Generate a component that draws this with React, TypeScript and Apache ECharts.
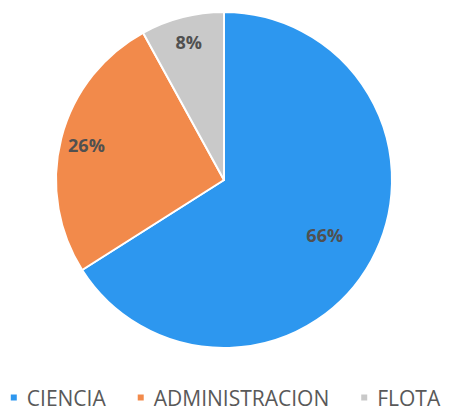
import React, { useEffect, useRef } from "react";
import * as echarts from "echarts";

const categories = ["CIENCIA", "ADMINISTRACION", "FLOTA"];
const values = [66, 26, 8];
const colors = ["#2d97ef", "#f28a4b", "#c9c9c9"];

export default function App() {
  const ref = useRef<HTMLDivElement>(null);
  useEffect(() => {
    const chart = echarts.init(ref.current!, null, { renderer: "svg" });
    const data = categories.map((name, i) => ({ name, value: values[i] }));
    const labelStyle = {
      show: true,
      position: "inside",
      formatter: "{c}%",
      color: "#505050",
      fontSize: 18,
      fontWeight: "bold",
      fontFamily: "Open Sans",
    };
    const hidden = { show: false };
    chart.setOption({
      animation: false,
      color: colors,
      legend: {
        data: categories,
        bottom: 2,
        left: "center",
        width: 449,
        padding: 0,
        icon: "rect",
        itemWidth: 8,
        itemHeight: 8,
        itemGap: 30,
        textStyle: { color: "#595959", fontSize: 21, fontFamily: "Open Sans", padding: [0, 0, 0, 4] },
      },
      series: [
        {
          type: "pie",
          center: [224, 180],
          radius: [0, 168],
          startAngle: 90,
          clockwise: true,
          data,
          label: { show: false },
          labelLine: { show: false },
          itemStyle: { borderColor: "#ffffff", borderWidth: 2 },
          silent: true,
        },
        {
          type: "pie",
          center: [224, 180],
          radius: [56, 168],
          startAngle: 90,
          clockwise: true,
          silent: true,
          legendHoverLink: false,
          data: data.map((d, i) => ({
            ...d,
            label: i === 0 ? labelStyle : hidden,
            itemStyle: { color: "transparent" },
          })),
          labelLine: { show: false },
        },
        {
          type: "pie",
          center: [224, 180],
          radius: [110, 168],
          startAngle: 90,
          clockwise: true,
          silent: true,
          legendHoverLink: false,
          data: data.map((d, i) => ({
            ...d,
            label: i === 0 ? hidden : labelStyle,
            itemStyle: { color: "transparent" },
          })),
          labelLine: { show: false },
        },
      ],
    });
    return () => chart.dispose();
  }, []);
  return <div ref={ref} style={{ width: 449, height: 410, position: "absolute", left: 0, top: 0 }} />;
}
